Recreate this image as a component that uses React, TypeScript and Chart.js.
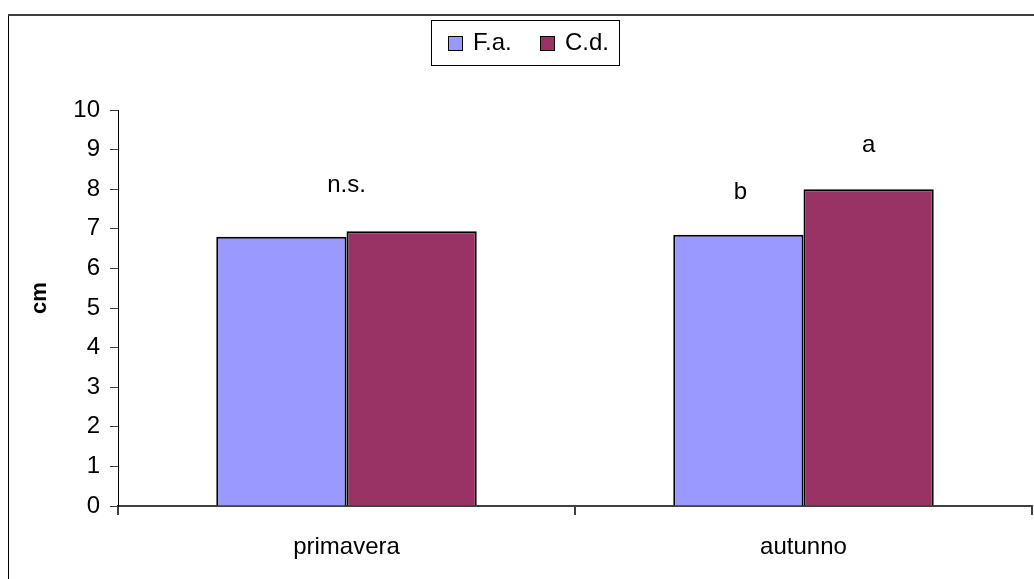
import React, { useEffect, useRef } from "react";
import { Chart, registerables } from "chart.js";

Chart.register(...registerables);

const categories = ["primavera", "autunno"];
const seriesLabels = ["F.a.", "C.d."];
const faValues = [6.8, 6.85];
const cdValues = [6.94, 8.0];
const faLetters = ["", "b"];
const cdLetters = ["", "a"];
const groupLetters = ["n.s.", ""];
const yMin = 0;
const yMax = 10;
const yStep = 1;
const yTitle = "cm";

const seriesColors = ["#9999FF", "#993366"];
const FONT = "'Liberation Sans', Arial, sans-serif";

const framePlugin = {
  id: "frame",
  beforeDraw(chart: any) {
    const ctx = chart.ctx;
    ctx.save();
    ctx.fillStyle = "#ffffff";
    ctx.fillRect(0, 0, chart.width, chart.height);
    ctx.strokeStyle = "#000000";
    ctx.lineWidth = 1;
    ctx.beginPath();
    ctx.moveTo(8.5, 14);
    ctx.lineTo(8.5, chart.height + 2);
    ctx.stroke();
    ctx.strokeStyle = "#404040";
    ctx.lineWidth = 2;
    ctx.beginPath();
    ctx.moveTo(8, 15);
    ctx.lineTo(chart.width + 2, 15);
    ctx.stroke();
    ctx.restore();
  },
};

const legendPlugin = {
  id: "boxLegend",
  afterDraw(chart: any) {
    const ctx = chart.ctx;
    ctx.save();
    ctx.strokeStyle = "#000000";
    ctx.lineWidth = 1;
    ctx.strokeRect(431.5, 20.5, 188, 45);
    const xs = [448, 540];
    chart.data.datasets.forEach((ds: any, i: number) => {
      const x = xs[i];
      ctx.fillStyle = ds.backgroundColor;
      ctx.fillRect(x, 36, 15, 15);
      ctx.strokeStyle = "#000000";
      ctx.lineWidth = 1;
      ctx.strokeRect(x + 0.5, 36.5, 14, 14);
      ctx.fillStyle = "#000000";
      ctx.font = `24px ${FONT}`;
      ctx.textAlign = "left";
      ctx.textBaseline = "middle";
      ctx.fillText(ds.label, x + 25, 43.5);
    });
    // y axis title
    ctx.save();
    ctx.translate(40, 298);
    ctx.rotate(-Math.PI / 2);
    ctx.font = `bold 22px ${FONT}`;
    ctx.textAlign = "center";
    ctx.textBaseline = "middle";
    ctx.fillText(yTitle, 0, 0);
    ctx.restore();
    ctx.restore();
  },
};

const letterPlugin = {
  id: "letters",
  afterDatasetsDraw(chart: any) {
    const ctx = chart.ctx;
    const m0 = chart.getDatasetMeta(0);
    const m1 = chart.getDatasetMeta(1);
    const xScale = chart.scales.x;
    ctx.save();
    ctx.fillStyle = "#000000";
    ctx.font = `24px ${FONT}`;
    ctx.textAlign = "center";
    ctx.textBaseline = "middle";
    categories.forEach((_, i) => {
      const b0 = m0.data[i];
      const b1 = m1.data[i];
      if (groupLetters[i]) {
        const top = Math.min(b0.y, b1.y);
        ctx.fillText(groupLetters[i], xScale.getPixelForValue(i), top - 46);
      }
      if (faLetters[i]) ctx.fillText(faLetters[i], b0.x + 2, b0.y - 42);
      if (cdLetters[i]) ctx.fillText(cdLetters[i], b1.x, b1.y - 44);
    });
    ctx.restore();
  },
};

export default function App() {
  const ref = useRef<HTMLCanvasElement | null>(null);

  useEffect(() => {
    if (!ref.current) return;
    const chart = new Chart(ref.current, {
      type: "bar",
      data: {
        labels: categories,
        datasets: [
          {
            label: seriesLabels[0],
            data: faValues,
            backgroundColor: seriesColors[0],
            borderColor: "#000000",
            borderWidth: 2,
            categoryPercentage: 0.57,
            barPercentage: 1.0,
          },
          {
            label: seriesLabels[1],
            data: cdValues,
            backgroundColor: seriesColors[1],
            borderColor: "#000000",
            borderWidth: 2,
            categoryPercentage: 0.57,
            barPercentage: 1.0,
          },
        ],
      },
      options: {
        responsive: false,
        animation: false,
        devicePixelRatio: 1,
        layout: { padding: { left: 0, right: 2, top: 110, bottom: 0 } },
        plugins: {
          legend: { display: false },
          tooltip: { enabled: false },
        },
        scales: {
          x: {
            grid: {
              display: true,
              drawOnChartArea: false,
              offset: true,
              tickLength: 9,
              color: "#404040",
              lineWidth: 2,
            },
            border: { color: "#404040", width: 2 },
            ticks: {
              color: "#000000",
              font: { family: FONT, size: 24 },
              padding: 18,
            },
            afterFit(scale: any) {
              scale.height = 73;
            },
          },
          y: {
            min: yMin,
            max: yMax,
            grid: {
              display: true,
              drawOnChartArea: false,
              tickLength: 8,
              color: "#404040",
              lineWidth: 1,
            },
            border: { color: "#000000", width: 1 },
            ticks: {
              stepSize: yStep,
              color: "#000000",
              font: { family: FONT, size: 24 },
              padding: 10,
            },
            afterFit(scale: any) {
              scale.width = 118;
            },
          },
        },
      },
      plugins: [framePlugin, letterPlugin, legendPlugin],
    });
    return () => chart.destroy();
  }, []);

  return (
    <div
      style={{
        position: "absolute",
        left: 0,
        top: 0,
        width: 1034,
        height: 579,
        overflow: "hidden",
      }}
    >
      <canvas ref={ref} width={1034} height={579} style={{ display: "block" }} />
    </div>
  );
}
